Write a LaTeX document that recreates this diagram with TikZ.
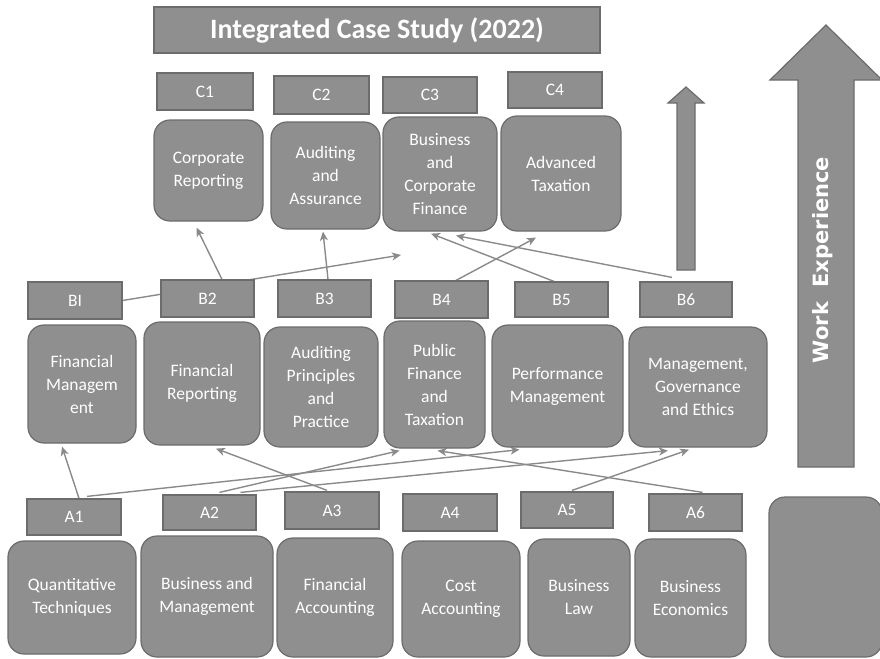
\documentclass[tikz,border=0pt]{standalone}
\usepackage{fontspec}
\setmainfont{Carlito}
\newfontfamily\workfont{DejaVu Sans}
\usetikzlibrary{arrows.meta,backgrounds}

\definecolor{boxgray}{RGB}{143,143,143}
\definecolor{edgegray}{RGB}{108,108,108}
\definecolor{linegray}{RGB}{138,138,138}

\tikzset{
  paper/.style={draw=edgegray,line width=1.2bp,fill=boxgray,text=white,inner sep=0pt,align=center,
    font=\fontsize{17.5bp}{23bp}\selectfont},
  code/.style={paper,rectangle},
  course/.style={paper,rounded corners=16bp},
  link/.style={-{Stealth[length=9bp,width=8bp,inset=2.5bp]},draw=linegray,line width=1.4bp},
}

\begin{document}
\begin{tikzpicture}
\useasboundingbox (0bp,0bp) rectangle (880bp,-659bp);

\node (ICS) at (377bp,-30bp)[code,minimum width=446bp,minimum height=46bp,font=\bfseries\fontsize{28bp}{32bp}\selectfont] {Integrated Case Study (2022)};

% level C
\node (C1) at (205bp,-91.5bp)[code,minimum width=96bp,minimum height=37bp] {C1};
\node (C2) at (321.5bp,-95bp)[code,minimum width=95bp,minimum height=38bp] {C2};
\node (C3) at (430bp,-95bp)[code,minimum width=94bp,minimum height=36bp] {C3};
\node (C4) at (555bp,-90bp)[code,minimum width=94bp,minimum height=36bp] {C4};
\node (CR) at (208.5bp,-170.5bp)[course,minimum width=109bp,minimum height=101bp] {Corporate\\Reporting};
\node (AA) at (325.5bp,-175.5bp)[course,minimum width=109bp,minimum height=107bp] {Auditing\\and\\Assurance};
\node (BCF) at (440bp,-174bp)[course,minimum width=114bp,minimum height=114bp] {Business\\and\\Corporate\\Finance};
\node (AT) at (561bp,-173.5bp)[course,minimum width=120bp,minimum height=115bp] {Advanced\\Taxation};

% level B
\node (B1) at (75bp,-300.5bp)[code,minimum width=94bp,minimum height=37bp] {BI};
\node (B2) at (207.5bp,-298.5bp)[code,minimum width=93bp,minimum height=37bp] {B2};
\node (B3) at (324.5bp,-298.5bp)[code,minimum width=93bp,minimum height=37bp] {B3};
\node (B4) at (441.5bp,-299.5bp)[code,minimum width=93bp,minimum height=37bp] {B4};
\node (B5) at (561.5bp,-299.5bp)[code,minimum width=93bp,minimum height=35bp] {B5};
\node (B6) at (686bp,-299.5bp)[code,minimum width=92bp,minimum height=35bp] {B6};
\node (FM) at (82bp,-384bp)[course,minimum width=108bp,minimum height=118bp] {Financial\\Managem\\ent};
\node (FR) at (202bp,-383.5bp)[course,minimum width=116bp,minimum height=123bp] {Financial\\Reporting};
\node (AP) at (321bp,-387bp)[course,minimum width=114bp,minimum height=120bp] {Auditing\\Principles\\and\\Practice};
\node (PF) at (434.5bp,-384.5bp)[course,minimum width=101bp,minimum height=127bp] {Public\\Finance\\and\\Taxation};
\node (PM) at (557.5bp,-386bp)[course,minimum width=131bp,minimum height=122bp] {Performance\\Management};
\node (MG) at (698bp,-387bp)[course,minimum width=138bp,minimum height=120bp] {Management,\\Governance\\and Ethics};

% level A
\node (A1) at (74bp,-517bp)[code,minimum width=94bp,minimum height=36bp] {A1};
\node (A2) at (209.5bp,-512.5bp)[code,minimum width=93bp,minimum height=35bp] {A2};
\node (A3) at (332bp,-510.5bp)[code,minimum width=94bp,minimum height=37bp] {A3};
\node (A4) at (450bp,-512.5bp)[code,minimum width=94bp,minimum height=37bp] {A4};
\node (A5) at (567bp,-510bp)[code,minimum width=92bp,minimum height=36bp] {A5};
\node (A6) at (695.5bp,-512.5bp)[code,minimum width=93bp,minimum height=37bp] {A6};
\node (QT) at (72bp,-597.5bp)[course,minimum width=128bp,minimum height=113bp] {Quantitative\\Techniques};
\node (BM) at (207bp,-596.5bp)[course,minimum width=132bp,minimum height=121bp] {Business and\\Management};
\node (FA) at (335bp,-597.5bp)[course,minimum width=116bp,minimum height=119bp] {Financial\\Accounting};
\node (CA) at (461bp,-599bp)[course,minimum width=118bp,minimum height=116bp] {Cost\\Accounting};
\node (BL) at (579bp,-597.5bp)[course,minimum width=102bp,minimum height=117bp] {Business\\Law};
\node (BE) at (690.5bp,-598bp)[course,minimum width=111bp,minimum height=118bp] {Business\\Economics};
\node (WB) at (825.5bp,-577bp)[course,minimum width=113bp,minimum height=160bp] {};

% work experience arrows
\draw [paper] (798bp,-467bp) -- (798bp,-80bp) -- (770bp,-80bp) -- (826bp,-25bp) -- (882bp,-80bp) -- (854bp,-80bp) -- (854bp,-467bp) -- cycle;
\draw [paper] (677bp,-270bp) -- (677bp,-103bp) -- (668bp,-103bp) -- (686bp,-87bp) -- (704bp,-103bp) -- (695bp,-103bp) -- (695bp,-270bp) -- cycle;
\node (WE) at (823bp,-260bp)[rotate=90,text=white,font=\workfont\bfseries\fontsize{21bp}{24bp}\selectfont] {Work\ \ Experience};

\coordinate (Bmid) at (401bp,-255bp);

\begin{scope}[on background layer]
\draw [link] ([xshift=5bp]A1.north) to ([xshift=-20bp,yshift=-3bp]FM.south);
\draw [link] ([xshift=13bp,yshift=2bp]A1.north) to ([xshift=-38bp,yshift=-2bp]PM.south);
\draw [link] ([xshift=10bp,yshift=2bp]A2.north) to ([xshift=-35bp,yshift=-2bp]PF.south);
\draw [link] ([xshift=31bp,yshift=2bp]A2.north) to ([xshift=-30bp,yshift=-3bp]MG.south);
\draw [link] ([xshift=-5bp,yshift=1bp]A3.north) to ([xshift=14bp,yshift=-3bp]FR.south);
\draw [link] ([xshift=5bp,yshift=1bp]A5.north) to ([xshift=-9bp,yshift=-2bp]MG.south);
\draw [link] ([xshift=7bp,yshift=1bp]A6.north) to ([xshift=3bp,yshift=-2bp]PF.south);
\draw [link] (B1.east) to (Bmid);
\draw [link] ([xshift=14.5bp]B2.north) to ([xshift=-12bp,yshift=-6bp]CR.south);
\draw [link] ([xshift=3.5bp]B3.north) to ([xshift=-2.5bp,yshift=-2bp]AA.south);
\draw [link] ([xshift=14.5bp]B4.north) to ([xshift=-25bp,yshift=-6bp]AT.south);
\draw [link] ([xshift=-7.5bp]B5.north) to ([xshift=-9bp,yshift=-2bp]BCF.south);
\draw [link] ([xshift=-14bp,yshift=4bp]B6.north) to ([xshift=16bp,yshift=-4bp]BCF.south);
\end{scope}
\end{tikzpicture}
\end{document}
